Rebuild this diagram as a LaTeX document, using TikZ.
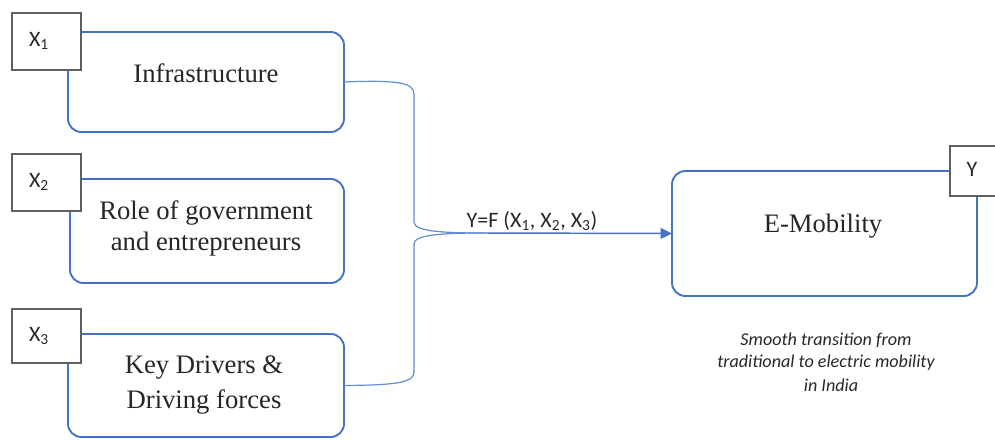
\documentclass[tikz,border=0pt]{standalone}
\usepackage{fontspec}
\setmainfont{Liberation Serif}
\newfontfamily\calib{Carlito}
\usetikzlibrary{arrows.meta}
\definecolor{boxblue}{RGB}{68,114,196}
\definecolor{linkblue}{RGB}{100,140,210}
\definecolor{framegray}{RGB}{95,95,95}
\definecolor{textgray}{RGB}{40,40,40}
\tikzset{
  mainbox/.style={draw=boxblue, line width=1.4pt, rounded corners=10pt, inner sep=0pt, outer sep=0pt, fill=white},
  tagbox/.style={draw=framegray, line width=1.3pt, fill=white, inner sep=0pt, outer sep=0pt},
  tagtext/.style={font=\calib\fontsize{16.5}{19}\selectfont, text=textgray, inner sep=0pt},
  bodytext/.style={font=\fontsize{20}{24}\selectfont, text=black!85, inner sep=0pt, anchor=base},
  captext/.style={font=\calib\itshape\fontsize{13.6}{16}\selectfont, text=textgray, inner sep=0pt, anchor=base},
  linkline/.style={draw=linkblue, line width=0.9pt},
  flowarrow/.style={draw=boxblue, line width=1.1pt, -{Triangle[length=8.5pt, width=8pt]}}
}
\begin{document}
\begin{tikzpicture}[x=0.75pt, y=-0.75pt]
\useasboundingbox (0,0) rectangle (995,439);
\fill[white] (0,0) rectangle (995,439);
\clip (0,0) rectangle (995,439);

% main boxes
\node[mainbox, minimum width=207pt, minimum height=75pt] (b1) at (206,82) {};
\node[mainbox, minimum width=205.5pt, minimum height=78pt] (b2) at (207,231) {};
\node[mainbox, minimum width=207pt, minimum height=77.25pt] (b3) at (206,385.5) {};
\node[mainbox, minimum width=228.75pt, minimum height=93.75pt] (em) at (824.5,233.5) {};

% box texts
\node[bodytext] (t1) at (206,82) {Infrastructure};
\node[bodytext] (t2a) at (206,219) {Role of government};
\node[bodytext] (t2b) at (206,250) {and entrepreneurs};
\node[bodytext] (t3a) at (204,373) {Key Drivers \&};
\node[bodytext] (t3b) at (204,408) {Driving forces};
\node[bodytext] (tem) at (823,232) {E-Mobility};

% tag boxes
\node[tagbox, minimum width=51.75pt, minimum height=42.75pt] (x1) at (46.5,41.5) {};
\node[tagbox, minimum width=51.75pt, minimum height=42.75pt] (x2) at (46.5,182.5) {};
\node[tagbox, minimum width=51.75pt, minimum height=40.5pt] (x3) at (46.5,336) {};
\node[tagbox, minimum width=39pt, minimum height=37.5pt] (yb) at (976,171) {};
\node[tagtext] (x1t) at (39,41) {X\textsubscript{1}};
\node[tagtext] (x2t) at (39,182) {X\textsubscript{2}};
\node[tagtext] (x3t) at (39,336) {X\textsubscript{3}};
\node[tagtext] (ybt) at (972,169) {Y};

% brace connectors
\coordinate (j) at (483,233);
\draw[linkline] (b1.east) .. controls (395,80) and (414,82) .. (414,94)
  -- (414,222) .. controls (414,231) and (440,233) .. (j);
\draw[linkline] (b3.east) .. controls (395,385) and (414,383) .. (414,372)
  -- (414,244) .. controls (414,235) and (440,233) .. (j);

% arrow
\draw[flowarrow] (j) -- (em.west);
\node[tagtext, anchor=base] (fx) at (532,227) {Y=F (X\textsubscript{1}, X\textsubscript{2}, X\textsubscript{3})};

% caption
\node[captext] (c1) at (826,345) {Smooth transition from};
\node[captext] (c2) at (826,367) {traditional to electric mobility};
\node[captext] (c3) at (831,391) {in India};
\end{tikzpicture}
\end{document}
